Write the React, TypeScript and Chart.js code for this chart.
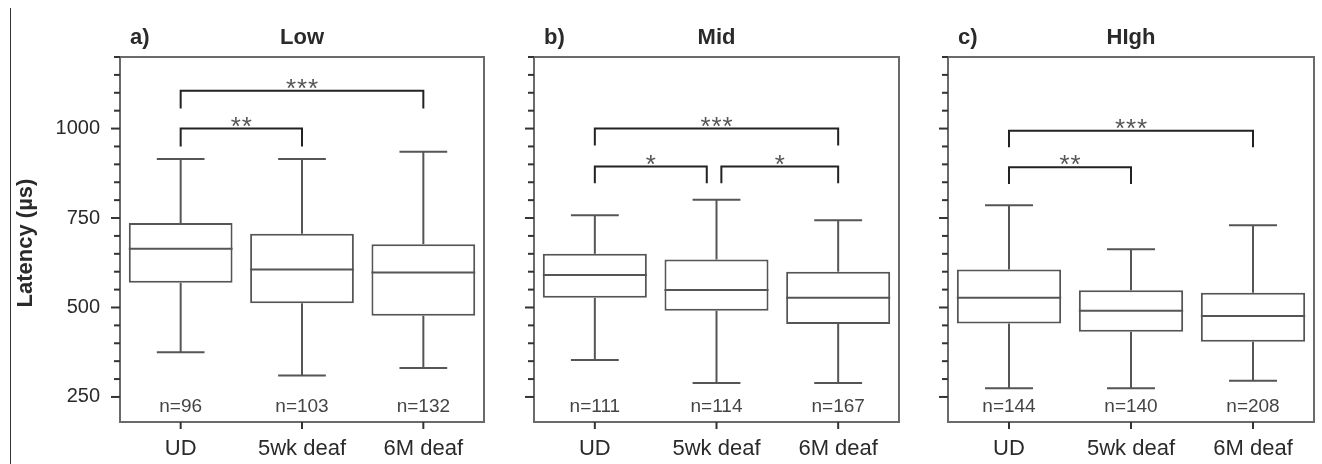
import React, { useEffect, useRef } from 'react';
import { Chart, registerables } from 'chart.js';

Chart.register(...registerables);

const FONT = "'Liberation Sans', Arial, Helvetica, sans-serif";

// ---------- data ----------
const categories = ['UD', '5wk deaf', '6M deaf'];
const panelLetters = ['a)', 'b)', 'c)'];
const panelTitles = ['Low', 'Mid', 'HIgh'];
const yAxisTitle = 'Latency (µs)';
const yMin = 180;
const yMax = 1200;
const yStep = 50;
const yLabelledTicks = [250, 500, 750, 1000];

const lowMin = [375, 310, 331];
const lowQ1 = [569, 512, 477];
const lowMedian = [664, 606, 598];
const lowQ3 = [736, 706, 677];
const lowMax = [915, 915, 935];
const lowN = [96, 103, 132];

const midMin = [353, 289, 289];
const midQ1 = [527, 491, 454];
const midMedian = [591, 549, 527];
const midQ3 = [650, 634, 600];
const midMax = [758, 801, 744];
const midN = [111, 114, 167];

const highMin = [274, 274, 295];
const highQ1 = [455, 432, 404];
const highMedian = [527, 491, 476];
const highQ3 = [606, 548, 541];
const highMax = [786, 663, 730];
const highN = [144, 140, 208];

type Bracket = { from: number; to: number; at: number; drop: number; label: string };

const lowBrackets: Bracket[] = [
  { from: 0, to: 1, at: 1000, drop: 950, label: '**' },
  { from: 0, to: 2, at: 1106, drop: 1056, label: '***' },
];
const midBrackets: Bracket[] = [
  { from: 0, to: 2, at: 1000, drop: 953, label: '***' },
  { from: 0, to: 0.92, at: 894, drop: 847, label: '*' },
  { from: 1.04, to: 2, at: 894, drop: 847, label: '*' },
];
const highBrackets: Bracket[] = [
  { from: 0, to: 2, at: 994, drop: 948, label: '***' },
  { from: 0, to: 1, at: 892, drop: 845, label: '**' },
];

type PanelData = {
  min: number[];
  q1: number[];
  median: number[];
  q3: number[];
  max: number[];
  n: number[];
  brackets: Bracket[];
};

const panels: PanelData[] = [
  { min: lowMin, q1: lowQ1, median: lowMedian, q3: lowQ3, max: lowMax, n: lowN, brackets: lowBrackets },
  { min: midMin, q1: midQ1, median: midMedian, q3: midQ3, max: midMax, n: midN, brackets: midBrackets },
  { min: highMin, q1: highQ1, median: highMedian, q3: highQ3, max: highMax, n: highN, brackets: highBrackets },
];

// ---------- layout (pixels) ----------
const layouts = [
  { left: 0, width: 495, axisWidth: 120, padRight: 11 },
  { left: 490, width: 415, axisWidth: 44, padRight: 6 },
  { left: 905, width: 417, axisWidth: 43, padRight: 8 },
];
const PAD_TOP = 57;
const X_AXIS_HEIGHT = 42;

const BOX_COLOR = '#555555';
const FRAME_COLOR = '#6a6a6a';
const TICK_COLOR = '#333333';
const TEXT_COLOR = '#2a2a2a';

function makePlugin(idx: number) {
  const p = panels[idx];
  return {
    id: 'boxDecor' + idx,
    afterDatasetsDraw(chart: any) {
      const ctx = chart.ctx as CanvasRenderingContext2D;
      const xs = chart.scales.x;
      const ys = chart.scales.y;
      const meta = chart.getDatasetMeta(0);
      ctx.save();
      ctx.strokeStyle = BOX_COLOR;
      ctx.lineWidth = 2;
      const line = (x1: number, y1: number, x2: number, y2: number) => {
        ctx.beginPath();
        ctx.moveTo(x1, y1);
        ctx.lineTo(x2, y2);
        ctx.stroke();
      };
      meta.data.forEach((bar: any, i: number) => {
        const cx = xs.getPixelForValue(i);
        const half = bar.width / 2;
        const capHalf = bar.width * 0.23;
        const yTop = ys.getPixelForValue(p.max[i]);
        const yQ3 = ys.getPixelForValue(p.q3[i]);
        const yMed = ys.getPixelForValue(p.median[i]);
        const yQ1 = ys.getPixelForValue(p.q1[i]);
        const yBot = ys.getPixelForValue(p.min[i]);
        line(cx, yQ3, cx, yTop);
        line(cx - capHalf, yTop, cx + capHalf, yTop);
        line(cx, yQ1, cx, yBot);
        line(cx - capHalf, yBot, cx + capHalf, yBot);
        line(cx - half, yMed, cx + half, yMed);
      });
      ctx.restore();
    },
    afterDraw(chart: any) {
      const ctx = chart.ctx as CanvasRenderingContext2D;
      const xs = chart.scales.x;
      const ys = chart.scales.y;
      const area = chart.chartArea;
      ctx.save();
      // frame
      ctx.strokeStyle = FRAME_COLOR;
      ctx.lineWidth = 2;
      ctx.strokeRect(area.left, area.top, area.right - area.left, area.bottom - area.top);
      // y ticks
      ctx.strokeStyle = TICK_COLOR;
      ctx.lineWidth = 2;
      ys.ticks.forEach((t: any) => {
        if (t.value % yStep !== 0) return;
        const py = ys.getPixelForValue(t.value);
        const len = yLabelledTicks.includes(t.value) ? 9 : 6;
        ctx.beginPath();
        ctx.moveTo(area.left - len, py);
        ctx.lineTo(area.left, py);
        ctx.stroke();
      });
      // x ticks
      categories.forEach((_, i) => {
        const px = xs.getPixelForValue(i);
        ctx.beginPath();
        ctx.moveTo(px, area.bottom);
        ctx.lineTo(px, area.bottom + 7);
        ctx.stroke();
      });
      // titles
      ctx.fillStyle = TEXT_COLOR;
      ctx.font = `bold 22px ${FONT}`;
      ctx.textBaseline = 'alphabetic';
      ctx.textAlign = 'left';
      ctx.fillText(panelLetters[idx], area.left + 10, 44);
      ctx.textAlign = 'center';
      ctx.fillText(panelTitles[idx], (area.left + area.right) / 2, 44);
      // n labels
      ctx.fillStyle = '#444444';
      ctx.font = `19px ${FONT}`;
      p.n.forEach((n, i) => {
        ctx.fillText('n=' + n, xs.getPixelForValue(i), area.bottom - 10);
      });
      // significance brackets
      p.brackets.forEach((b) => {
        const x1 = xs.getPixelForValue(b.from);
        const x2 = xs.getPixelForValue(b.to);
        const yb = ys.getPixelForValue(b.at);
        const yd = ys.getPixelForValue(b.drop);
        ctx.strokeStyle = '#222222';
        ctx.lineWidth = 2;
        ctx.beginPath();
        ctx.moveTo(x1, yd);
        ctx.lineTo(x1, yb);
        ctx.lineTo(x2, yb);
        ctx.lineTo(x2, yd);
        ctx.stroke();
        ctx.fillStyle = '#555555';
        ctx.font = `26px ${FONT}`;
        ctx.textAlign = 'center';
        const cx = (x1 + x2) / 2;
        const k = b.label.length;
        for (let s = 0; s < k; s++) {
          ctx.fillText('*', cx + (s - (k - 1) / 2) * 11, yb + 6);
        }
      });
      // y axis title
      if (idx === 0) {
        ctx.save();
        ctx.translate(32, 243);
        ctx.rotate(-Math.PI / 2);
        ctx.fillStyle = TEXT_COLOR;
        ctx.font = `bold 22px ${FONT}`;
        ctx.textAlign = 'center';
        ctx.textBaseline = 'alphabetic';
        ctx.fillText(yAxisTitle, 0, 0);
        ctx.restore();
      }
      ctx.restore();
    },
  };
}

function BoxPanel({ idx }: { idx: number }) {
  const ref = useRef<HTMLCanvasElement | null>(null);
  const lay = layouts[idx];
  useEffect(() => {
    if (!ref.current) return;
    const p = panels[idx];
    const chart = new Chart(ref.current, {
      type: 'bar',
      data: {
        labels: categories,
        datasets: [
          {
            data: p.q1.map((q, i) => [q, p.q3[i]]) as any,
            backgroundColor: '#ffffff',
            borderColor: BOX_COLOR,
            borderWidth: 2,
            borderSkipped: false,
            barPercentage: 0.855,
            categoryPercentage: 1,
          },
        ],
      },
      options: {
        responsive: false,
        animation: false,
        events: [],
        layout: { padding: { left: 0, right: lay.padRight, top: PAD_TOP, bottom: 0 } },
        plugins: { legend: { display: false }, tooltip: { enabled: false }, title: { display: false } },
        scales: {
          x: {
            type: 'category',
            offset: true,
            grid: { display: false, drawTicks: false },
            border: { display: false },
            ticks: {
              padding: 14,
              color: TEXT_COLOR,
              font: { family: FONT, size: 22 },
              maxRotation: 0,
              autoSkip: false,
            },
            afterFit: (s: any) => {
              s.height = X_AXIS_HEIGHT;
            },
          },
          y: {
            type: 'linear',
            min: yMin,
            max: yMax,
            grid: { display: false, drawTicks: false },
            border: { display: false },
            ticks: {
              stepSize: yStep,
              padding: 20,
              color: TEXT_COLOR,
              font: { family: FONT, size: 20 },
              autoSkip: false,
              callback: (v: any) => (idx === 0 && yLabelledTicks.includes(Number(v)) ? String(v) : ''),
            },
            afterFit: (s: any) => {
              s.width = lay.axisWidth;
            },
          },
        },
      },
      plugins: [makePlugin(idx)],
    });
    return () => chart.destroy();
  }, [idx]);
  return (
    <canvas
      ref={ref}
      width={lay.width}
      height={464}
      style={{ position: 'absolute', left: lay.left, top: 0, width: lay.width, height: 464 }}
    />
  );
}

export default function App() {
  useEffect(() => {
    document.body.style.margin = '0';
    document.body.style.background = '#ffffff';
  }, []);
  return (
    <div style={{ position: 'relative', width: 1322, height: 464, overflow: 'hidden', background: '#fff' }}>
      <div style={{ position: 'absolute', left: 10, top: 8, width: 1, height: 456, background: '#333' }} />
      <BoxPanel idx={0} />
      <BoxPanel idx={1} />
      <BoxPanel idx={2} />
    </div>
  );
}
